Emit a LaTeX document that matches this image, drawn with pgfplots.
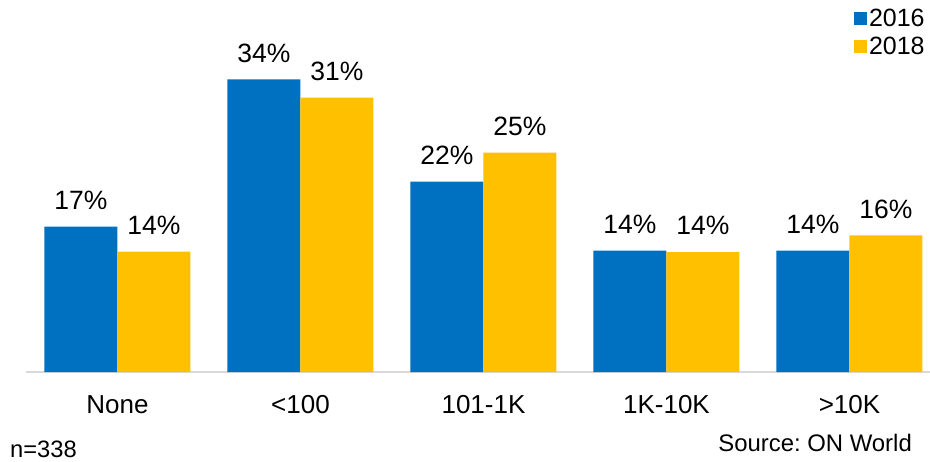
\documentclass[border=0pt]{standalone}
\usepackage{pgfplots}
\pgfplotsset{compat=1.18}
\usepackage{fontspec}
\setmainfont{Liberation Sans}
\frenchspacing
\definecolor{cblue}{HTML}{0070C0}
\definecolor{cyellow}{HTML}{FFC000}
\definecolor{cgrid}{HTML}{D9D9D9}
\begin{document}
\begin{tikzpicture}
\useasboundingbox (0,0) rectangle (930pt,461pt);
\begin{axis}[
  at={(26pt,89pt)}, anchor=south west,
  scale only axis, width=904pt, height=372pt,
  xmin=-0.5, xmax=4.44, ymin=0, ymax=42.66,
  ybar=0pt, bar width=73pt,
  hide y axis,
  axis x line*=bottom,
  x axis line style={draw=cgrid, line width=2pt, -},
  xtick={0,1,2,3,4},
  xticklabels={None,{<100},101-1K,1K-10K,{>10K}},
  major tick length=0pt,
  xticklabel style={font=\fontsize{26}{30}\selectfont, anchor=north, inner sep=0pt, text height=18.6pt, text depth=0pt, yshift=-23pt},
  /pgf/number format/assume math mode=true,
  /pgf/number format/fixed, /pgf/number format/precision=0,
  nodes near coords={\pgfmathprintnumber{\pgfplotspointmeta}\%},
  every node near coord/.append style={font=\fontsize{26.5}{30}\selectfont, anchor=south, inner sep=0pt, text depth=0pt, yshift=17pt, black},
  legend style={at={(axis description cs:0.9965,0.982)}, anchor=north east, draw=none, fill=none, inner sep=0pt, font=\fontsize{25}{30}\selectfont, row sep=5pt, cells={anchor=west}},
  legend image code/.code={\fill[#1] (0.5pt,-6.5pt) rectangle (13.5pt,6.5pt);},
  clip=false,
]
\addplot[fill=cblue, draw=none] coordinates {(0,16.66) (1,33.57) (2,21.82) (3,13.91) (4,13.91)};
\addplot[fill=cyellow, draw=none] coordinates {(0,13.8) (1,31.46) (2,25.15) (3,13.76) (4,15.68)};
\legend{2016,2018}
\end{axis}
\node[anchor=base west, inner sep=0pt, font=\fontsize{23.7}{26}\selectfont] at (10pt,4pt) {n=338};
\node[anchor=base east, inner sep=0pt, font=\fontsize{23.9}{26}\selectfont] at (912pt,9.5pt) {Source: ON World};
\end{tikzpicture}
\end{document}
